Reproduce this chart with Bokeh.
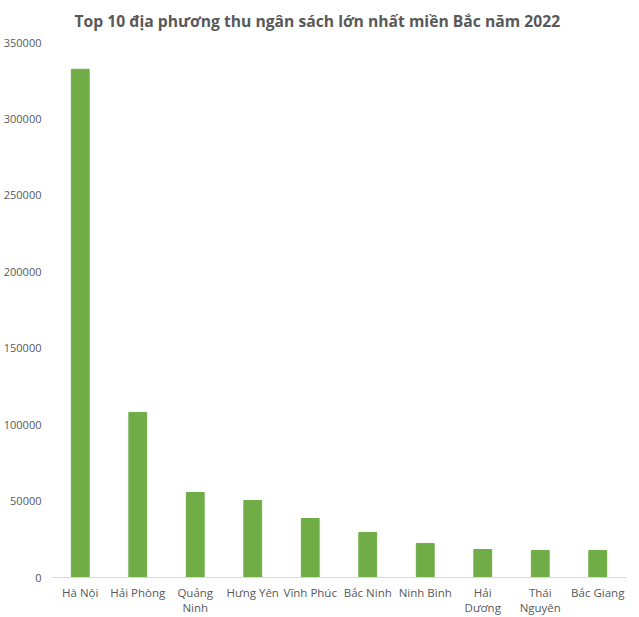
from bokeh.plotting import figure
from bokeh.models import FixedTicker, NumeralTickFormatter, ColumnDataSource
from bokeh.embed import file_html
from bokeh.resources import INLINE

provinces = ["Hà Nội", "Hải Phòng", "Quảng\nNinh", "Hưng Yên", "Vĩnh Phúc",
             "Bắc Ninh", "Ninh Bình", "Hải\nDương", "Thái\nNguyên", "Bắc Giang"]
revenue = [332500, 108000, 55600, 50400, 38600, 29500, 22300, 18300, 17700, 17700]
y_ticks = [0, 50000, 100000, 150000, 200000, 250000, 300000, 350000]

TEXT = "#595959"
FONT = "Open Sans"

src = ColumnDataSource(dict(x=provinces, top=revenue))

p = figure(x_range=provinces, y_range=(0, 350000), width=639, height=617,
           output_backend="svg", toolbar_location=None,
           title="Top 10 địa phương thu ngân sách lớn nhất miền Bắc năm 2022",
           min_border_left=50, min_border_right=13, min_border_bottom=30,
           min_border_top=8)

p.vbar(x="x", top="top", width=0.31, source=src, color="#70ad47")

p.title.align = "left"
p.title.vertical_align = "top"
p.title.offset = 23
p.title.standoff = 18
p.title.text_font = FONT
p.title.text_font_size = "15.7px"
p.title.text_font_style = "bold"
p.title.text_color = TEXT

p.xgrid.visible = False
p.ygrid.visible = False
p.outline_line_color = None

p.yaxis.ticker = FixedTicker(ticks=y_ticks)
p.yaxis.formatter = NumeralTickFormatter(format="0")
p.yaxis.axis_line_color = None
p.yaxis.major_tick_line_color = None
p.yaxis.minor_tick_line_color = None
p.yaxis.major_tick_out = 0
p.yaxis.major_tick_in = 0
p.yaxis.minor_tick_out = 0
p.yaxis.major_label_text_font = FONT
p.yaxis.major_label_text_font_size = "11px"
p.yaxis.major_label_text_color = TEXT
p.yaxis.major_label_standoff = 10

p.xaxis.axis_line_color = "#d9d9d9"
p.xaxis.axis_line_width = 1
p.xaxis.major_tick_line_color = None
p.xaxis.minor_tick_line_color = None
p.xaxis.major_tick_out = 0
p.xaxis.major_tick_in = 0
p.xaxis.minor_tick_out = 0
p.xaxis.major_label_text_font = FONT
p.xaxis.major_label_text_font_size = "11.5px"
p.xaxis.major_label_text_color = TEXT
p.xaxis.major_label_text_line_height = 1.0
p.xaxis.major_label_standoff = 7
p.xaxis.major_label_orientation = "horizontal"

p.x_range.range_padding = 0

open("out.html", "w").write(file_html(p, INLINE))
